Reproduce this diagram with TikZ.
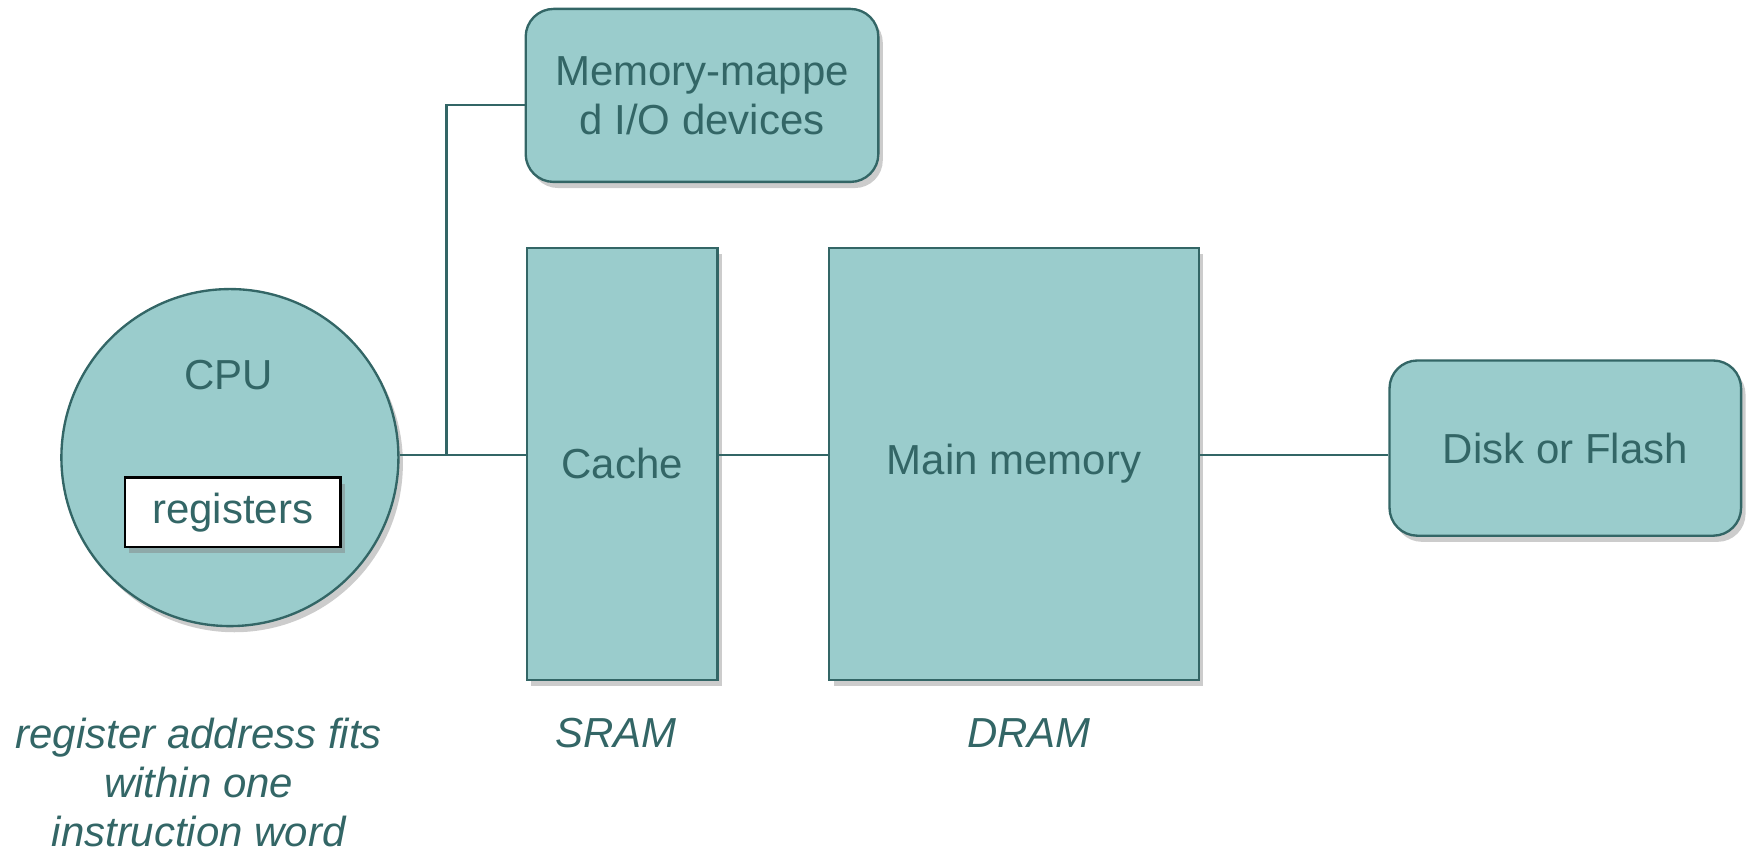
\documentclass[tikz,border=0pt]{standalone}
\usepackage{fontspec}
\setmainfont{Liberation Sans}
\usetikzlibrary{shadows}
\definecolor{tealfill}{HTML}{9ACCCC}
\definecolor{tealline}{HTML}{336666}
\begin{document}
\begin{tikzpicture}[
  font=\fontsize{10.7}{12.5}\selectfont,
  unit/.style={draw=tealline, fill=tealfill, line width=0.6pt, text=tealline,
    drop shadow={shadow xshift=0.4mm, shadow yshift=-0.55mm, opacity=0.4}},
  stor/.style={unit, rounded corners=0.25cm},
  regbox/.style={draw=black, fill=white, line width=0.7pt, text=tealline,
    drop shadow={shadow xshift=0.4mm, shadow yshift=-0.55mm, opacity=0.45}},
  bus/.style={draw=tealline, line width=0.55pt},
  note/.style={text=tealline, font=\fontsize{10.7}{12.5}\selectfont\itshape, align=center}
]

\useasboundingbox (0,0) rectangle (15.68,7.62) ;

\node (cpu) [unit, circle, minimum size=3.02cm, inner sep=0pt] at (2.06,3.52) {} ;
\node (cpulabel) [text=tealline] at (2.05,4.26) {CPU} ;
\node (regs) [regbox, minimum width=1.93cm, minimum height=0.62cm] at (2.085,3.03) {registers} ;

\node (cache) [unit, minimum width=1.71cm, minimum height=3.87cm] at (5.575,3.465) {Cache} ;
\node (mainmem) [unit, minimum width=3.31cm, minimum height=3.87cm] at (9.085,3.465) {Main memory} ;
\node (disk) [stor, minimum width=3.15cm, minimum height=1.57cm] at (14.025,3.605) {Disk or Flash} ;
\node (mmio) [stor, align=center, minimum width=3.16cm, minimum height=1.55cm] at (6.29,6.765) {Memory-mappe\\d I/O devices} ;

\coordinate (tap) at (4.00,3.54) ;
\coordinate (mmiotap) at ([yshift=-0.085cm]mmio.west) ;

\draw[bus] (tap -| cpu.east) -- (tap -| cache.west) ;
\draw[bus] (tap) |- (mmiotap) ;
\draw[bus] (tap -| cache.east) -- (tap -| mainmem.west) ;
\draw[bus] (tap -| mainmem.east) -- (tap -| disk.west) ;

\node (sram) [note] at (5.52,1.05) {SRAM} ;
\node (dram) [note] at (9.22,1.05) {DRAM} ;
\node (regnote) [note] at (1.78,0.61) {register address fits\\within one\\instruction word} ;

\end{tikzpicture}
\end{document}
